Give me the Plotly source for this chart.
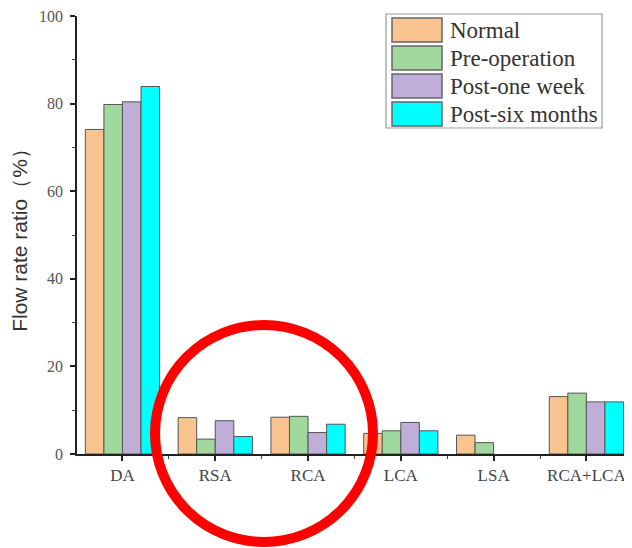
import plotly.graph_objects as go

categories = ["DA", "RSA", "RCA", "LCA", "LSA", "RCA+LCA"]
series_names = ["Normal", "Pre-operation", "Post-one week", "Post-six months"]
normal = [74.1, 8.3, 8.4, 4.7, 4.3, 13.1]
pre_operation = [79.8, 3.4, 8.6, 5.3, 2.6, 13.9]
post_one_week = [80.4, 7.6, 4.9, 7.2, None, 11.9]
post_six_months = [83.9, 4.0, 6.8, 5.3, None, 11.9]
y_ticks = [0, 20, 40, 60, 80, 100]

colors = ["#FAC490", "#A0D89E", "#BFAFD8", "#00FFFF"]
series = [normal, pre_operation, post_one_week, post_six_months]

OFF = 8  # default page body margin
W, H = 632 - OFF, 548 - OFF
L, R, T, B = 77 - OFF, 2, 16 - OFF, 548 - 454
pw, ph = W - L - R, H - T - B


def px(x):
    return (x - OFF - L) / pw


def py(y):
    return (H - B - (y - OFF)) / ph


xs = list(range(len(categories)))
fig = go.Figure()
for name, vals, c in zip(series_names, series, colors):
    fig.add_trace(go.Bar(
        x=xs, y=vals, name=name, marker_color=c,
        marker_line=dict(color="#555555", width=1), showlegend=False,
    ))

serif = "Liberation Serif, Times New Roman, serif"
fig.update_layout(
    width=W, height=H, margin=dict(l=L, r=R, t=T, b=B),
    plot_bgcolor="white", paper_bgcolor="white",
    barmode="group", bargap=0.2, bargroupgap=0,
    xaxis=dict(
        automargin=False,
        range=[-0.49, 5.47], tickmode="array", tickvals=xs, ticktext=categories,
        showline=True, linecolor="#222222", linewidth=1.5, showgrid=False,
        zeroline=False, ticks="outside", ticklen=5, tickwidth=1.5, tickcolor="#222222",
        tickfont=dict(family=serif, size=17, color="#444444"),
        minor=dict(tickvals=[i + 0.5 for i in range(-1, len(categories))], ticks="outside",
                   ticklen=3, tickwidth=1, tickcolor="#444444"),
    ),
    yaxis=dict(
        automargin=False, ticklabeloverflow="allow", ticklabelstandoff=4,
        range=[0, 100], tickvals=y_ticks, showline=True, linecolor="#222222",
        linewidth=1.5, showgrid=False, zeroline=False, ticks="outside", ticklen=5,
        tickwidth=1.5, tickcolor="#222222",
        tickfont=dict(family=serif, size=16, color="#555555"),
        minor=dict(dtick=10, ticks="outside", ticklen=3, tickwidth=1, tickcolor="#444444"),
        title=dict(text="Flow rate ratio（%）",
                   font=dict(family="Liberation Sans, Arial, sans-serif", size=21, color="#333333"),
                   standoff=14),
    ),
)

shapes = []
# legend box
shapes.append(dict(type="rect", xref="paper", yref="paper",
                   x0=px(386), x1=px(602), y0=py(128), y1=py(14),
                   line=dict(color="#999999", width=1.2), fillcolor="white", layer="above"))
annotations = []
for i, (name, c) in enumerate(zip(series_names, colors)):
    top = 18 + 28 * i
    shapes.append(dict(type="rect", xref="paper", yref="paper",
                       x0=px(392), x1=px(442), y0=py(top + 24), y1=py(top),
                       line=dict(color="#666666", width=1.5), fillcolor=c, layer="above"))
    annotations.append(dict(xref="paper", yref="paper", x=px(448), y=py(top + 12),
                            text=name, showarrow=False, xanchor="left", yanchor="middle",
                            font=dict(family=serif, size=23, color="#333333")))
# red highlight circle
shapes.append(dict(type="circle", xref="paper", yref="paper",
                   x0=px(155), x1=px(373), y0=py(542), y1=py(325),
                   line=dict(color="#FF0000", width=10), layer="above"))
fig.update_layout(shapes=shapes, annotations=annotations)

fig.write_html("out.html")
